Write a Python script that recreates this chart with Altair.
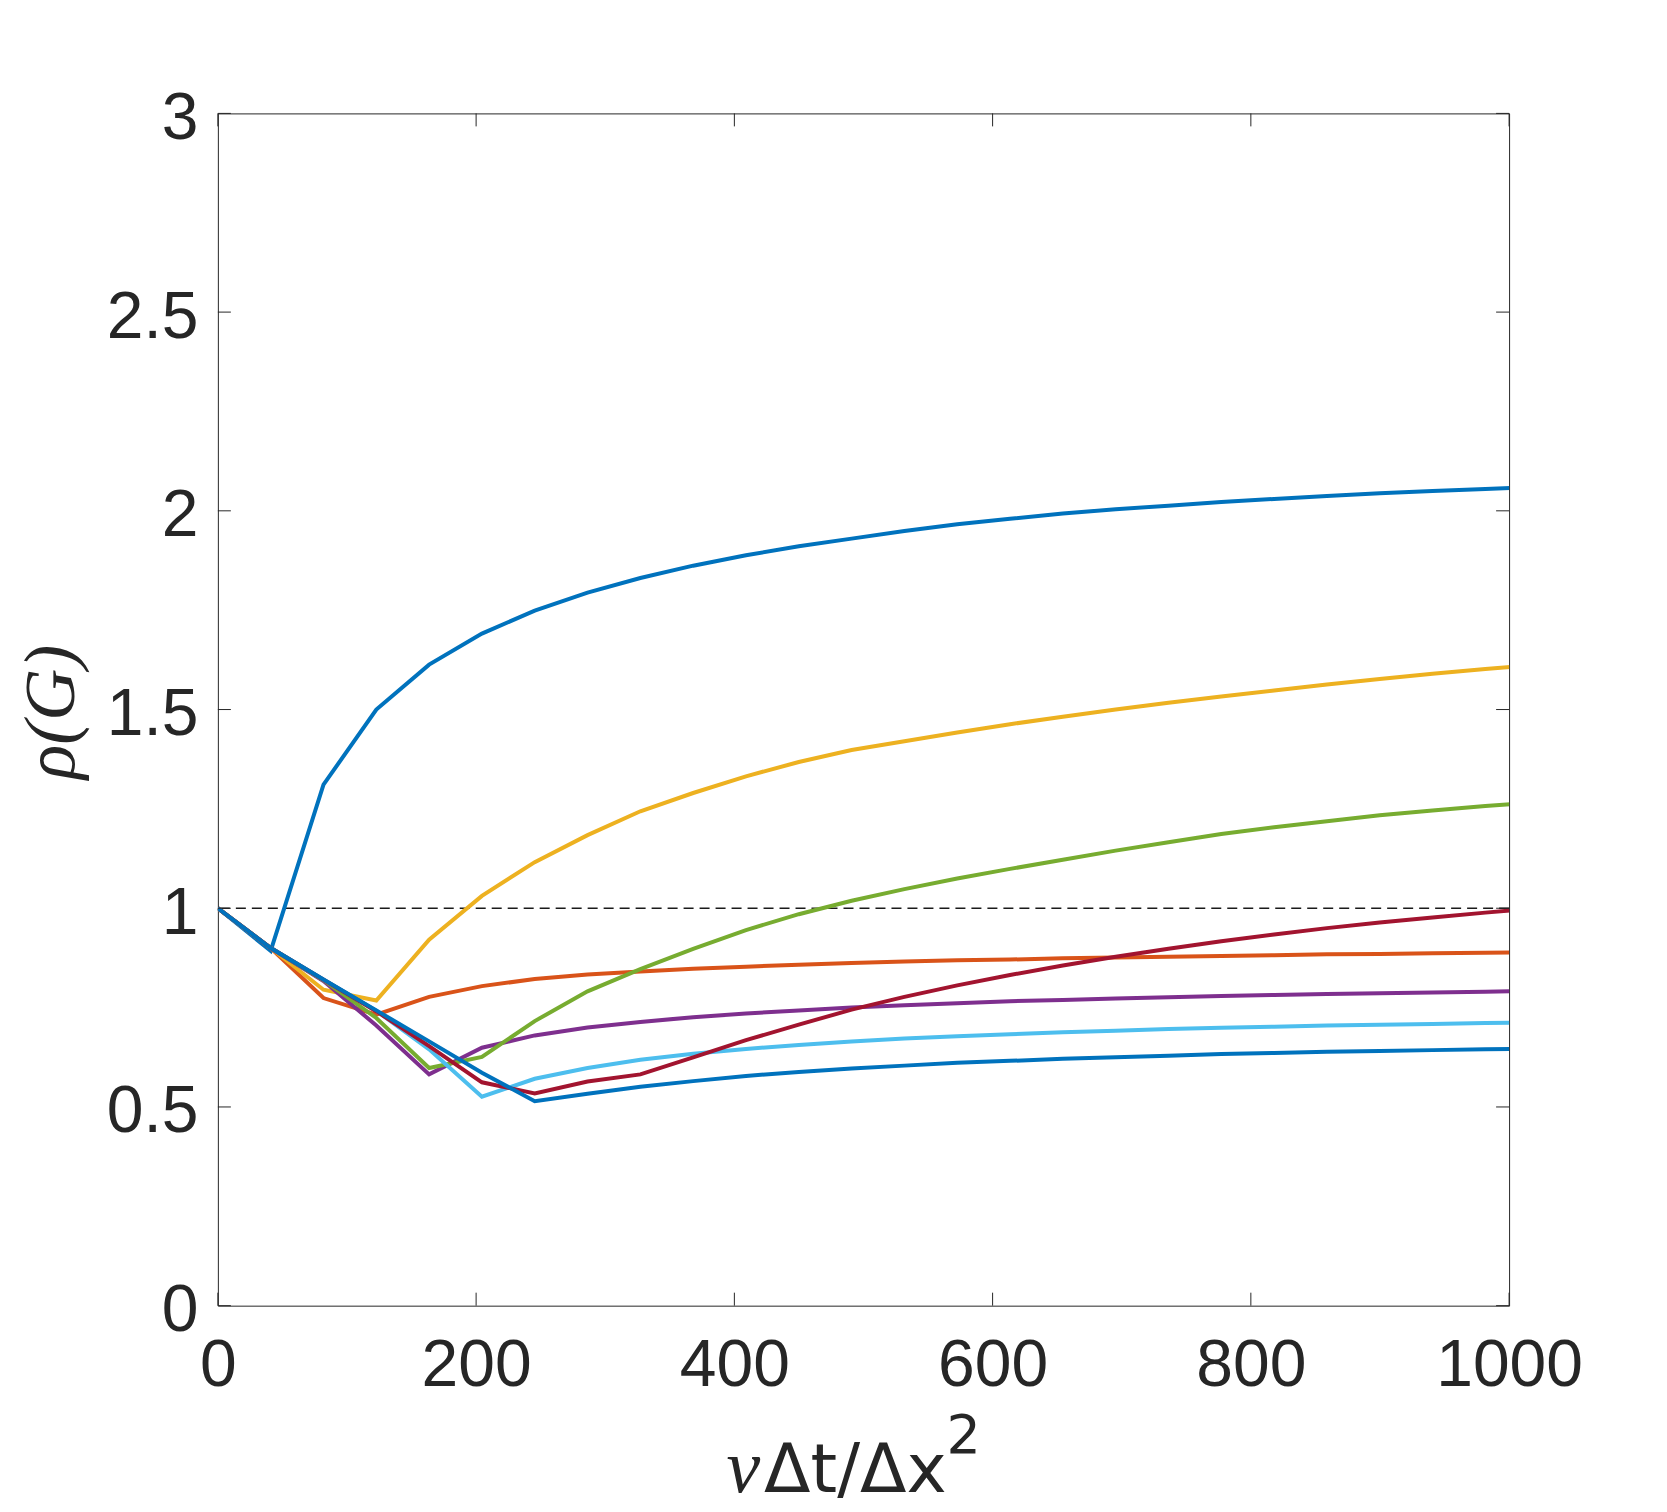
import altair as alt
import pandas as pd

# ---- data ----
x_vals = [0, 40.9, 81.8, 122.7, 163.6, 204.5, 245.4, 286.3, 327.2, 368.1, 409.0,
          449.9, 490.8, 531.7, 572.6, 613.5, 654.4, 695.3, 736.2, 777.1, 818.0,
          858.9, 899.8, 940.7, 981.6, 1022.5]

s1_blue = [1.000, 0.893, 1.311, 1.500, 1.613, 1.691, 1.749, 1.794, 1.831, 1.862, 1.888,
           1.911, 1.930, 1.949, 1.966, 1.980, 1.993, 2.004, 2.013, 2.022, 2.030,
           2.037, 2.044, 2.050, 2.055, 2.060]
s2_orange = [1.000, 0.900, 0.774, 0.732, 0.777, 0.804, 0.822, 0.833, 0.841, 0.848, 0.853,
             0.858, 0.862, 0.866, 0.869, 0.871, 0.874, 0.876, 0.878, 0.880, 0.882,
             0.884, 0.885, 0.887, 0.888, 0.890]
s3_yellow = [1.000, 0.900, 0.795, 0.768, 0.921, 1.031, 1.116, 1.184, 1.244, 1.290, 1.332,
             1.368, 1.398, 1.420, 1.442, 1.463, 1.482, 1.500, 1.517, 1.533, 1.548,
             1.563, 1.577, 1.590, 1.602, 1.613]
s4_purple = [1.000, 0.900, 0.817, 0.705, 0.582, 0.649, 0.680, 0.700, 0.714, 0.726, 0.735,
             0.743, 0.750, 0.756, 0.761, 0.766, 0.769, 0.773, 0.776, 0.779, 0.782,
             0.784, 0.786, 0.788, 0.790, 0.792]
s5_green = [1.000, 0.900, 0.819, 0.724, 0.598, 0.626, 0.716, 0.791, 0.847, 0.898, 0.945,
            0.985, 1.019, 1.048, 1.075, 1.099, 1.122, 1.145, 1.166, 1.187, 1.204,
            1.219, 1.234, 1.246, 1.257, 1.267]
s6_lightblue = [1.000, 0.900, 0.820, 0.742, 0.645, 0.526, 0.571, 0.598, 0.619, 0.634, 0.646,
                0.656, 0.665, 0.672, 0.678, 0.683, 0.688, 0.692, 0.696, 0.699, 0.702,
                0.705, 0.707, 0.709, 0.711, 0.713]
s7_red = [1.000, 0.900, 0.820, 0.741, 0.653, 0.562, 0.534, 0.564, 0.582, 0.625, 0.668,
          0.707, 0.745, 0.777, 0.806, 0.832, 0.856, 0.878, 0.898, 0.917, 0.934,
          0.950, 0.964, 0.977, 0.989, 1.000]
s8_blue = [1.000, 0.900, 0.8205, 0.743, 0.665, 0.586, 0.5145, 0.533, 0.551, 0.565, 0.578,
           0.588, 0.597, 0.604, 0.611, 0.616, 0.621, 0.625, 0.629, 0.633, 0.636,
           0.639, 0.641, 0.643, 0.645, 0.647]

series = [s1_blue, s2_orange, s3_yellow, s4_purple, s5_green, s6_lightblue, s7_red, s8_blue]
names = ["s1", "s2", "s3", "s4", "s5", "s6", "s7", "s8"]
colors = ["#0072BD", "#D95319", "#EDB120", "#7E2F8E", "#77AC30", "#4DBEEE", "#A2142F", "#0072BD"]

x_ticks = [0, 200, 400, 600, 800, 1000]
y_ticks = [0, 0.5, 1, 1.5, 2, 2.5, 3]
ref_level = [1]

# ---- build tables ----
rows = []
for name, vals in zip(names, series):
    for xv, yv in zip(x_vals, vals):
        rows.append({"s": name, "x": xv, "y": yv})
df = pd.DataFrame(rows)

W, H = 1292, 1193
TXT = "#262626"

xscale = alt.Scale(domain=[0, 1000], nice=False, zero=False)
yscale = alt.Scale(domain=[0, 3], nice=False, zero=False)

xaxis = alt.Axis(values=x_ticks, format="d", ticks=False, domain=False, grid=False,
                 labelFont="Liberation Sans", labelFontSize=66, labelColor=TXT,
                 labelPadding=28, labelFlush=False, labelOverlap=False,
                 title="Δt/Δx", titleFont="DejaVu Sans", titleFontSize=68,
                 titleFontWeight="normal", titleColor=TXT, titleAlign="left",
                 titleBaseline="alphabetic", titleX=546, titleY=186)
yaxis = alt.Axis(values=y_ticks, format="~g", ticks=False, domain=False, grid=False,
                 labelFont="Liberation Sans", labelFontSize=66, labelColor=TXT,
                 labelPadding=20, labelOffset=5, labelFlush=False, labelOverlap=False,
                 title="ρ(G)", titleFont="Liberation Serif", titleFontStyle="italic",
                 titleFontSize=72, titleFontWeight="normal", titleColor=TXT,
                 titleAngle=270, titleAlign="center", titleBaseline="alphabetic",
                 titleX=-144, titleY=H / 2 + 2)

X = alt.X("x:Q", scale=xscale, axis=xaxis)
Y = alt.Y("y:Q", scale=yscale, axis=yaxis)

layers = []

# dashed reference line at 1
layers.append(
    alt.Chart(pd.DataFrame({"y": ref_level}))
    .mark_rule(color="#1a1a1a", strokeWidth=1.3, strokeDash=[10, 6])
    .encode(y=Y)
)

for name, col in zip(names, colors):
    layers.append(
        alt.Chart(df)
        .transform_filter(alt.datum.s == name)
        .mark_line(color=col, strokeWidth=4, clip=True)
        .encode(x=X, y=Y)
    )

# inward tick marks on all four sides
yt = pd.DataFrame({"y": y_ticks})
xt = pd.DataFrame({"x": x_ticks})
TL = 13
layers.append(alt.Chart(yt).mark_rule(color=TXT, strokeWidth=1)
              .encode(y=Y, x=alt.value(0), x2=alt.value(TL)))
layers.append(alt.Chart(yt).mark_rule(color=TXT, strokeWidth=1)
              .encode(y=Y, x=alt.value(W - TL), x2=alt.value(W)))
layers.append(alt.Chart(xt).mark_rule(color=TXT, strokeWidth=1)
              .encode(x=X, y=alt.value(H), y2=alt.value(H - TL)))
layers.append(alt.Chart(xt).mark_rule(color=TXT, strokeWidth=1)
              .encode(x=X, y=alt.value(0), y2=alt.value(TL)))

# italic nu in front of the x-axis title, and its superscript 2
layers.append(
    alt.Chart(pd.DataFrame({"t": ["ν"]}))
    .mark_text(font="Liberation Serif", fontStyle="italic", fontSize=76, color=TXT,
               align="left", baseline="alphabetic")
    .encode(text="t:N", x=alt.value(509), y=alt.value(H + 186))
)
layers.append(
    alt.Chart(pd.DataFrame({"t": ["2"]}))
    .mark_text(font="DejaVu Sans", fontSize=54, color=TXT, align="left", baseline="alphabetic")
    .encode(text="t:N", x=alt.value(729), y=alt.value(H + 147))
)

chart = (
    alt.layer(*layers)
    .properties(width=W, height=H,
                autosize=alt.AutoSizeParams(type="none"),
                padding={"left": 210, "top": 105, "right": 150, "bottom": 210},
                background="white")
    .configure_view(stroke=TXT, strokeWidth=1)
)

chart.save("out.html", embed_options={"renderer": "svg", "actions": False})
